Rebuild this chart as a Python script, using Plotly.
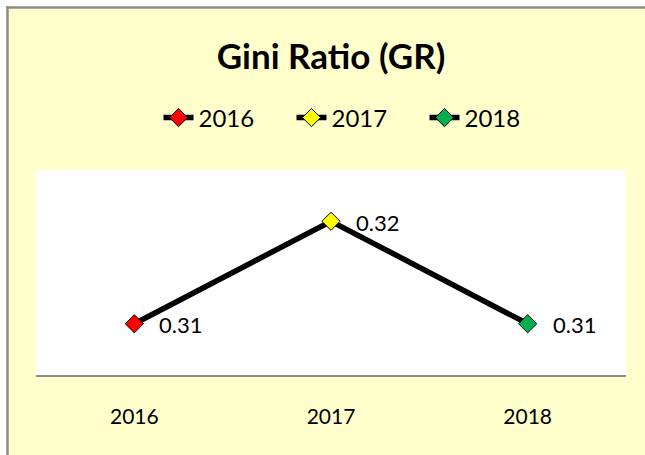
import plotly.graph_objects as go

categories = ["2016", "2017", "2018"]
gini_values = [0.31, 0.32, 0.31]
value_labels = ["0.31", "0.32", "0.31"]
marker_colors = ["#FF0000", "#FFFF00", "#00B050"]

FONT = "Lato"
W, H = 645, 455
L, R, T, B = 36, 19, 170, 80
PW, PH = W - L - R, H - T - B


def px_x(p):
    return (p - L) / PW


def px_y(p):
    return (H - B - p) / PH


fig = go.Figure()

# connecting line
fig.add_trace(go.Scatter(
    x=categories, y=gini_values, mode="lines",
    line=dict(color="black", width=5.5), showlegend=False, hoverinfo="skip",
))

# one series per year (legend entries)
for cat, val, col in zip(categories, gini_values, marker_colors):
    fig.add_trace(go.Scatter(
        x=[cat], y=[val], mode="lines+markers", name=cat,
        line=dict(color="black", width=5.5),
        marker=dict(symbol="diamond", size=14, color=col,
                    line=dict(color="black", width=1)),
    ))

for i, (val, lab) in enumerate(zip(gini_values, value_labels)):
    fig.add_annotation(
        x=i, y=val, xref="x", yref="y", text=lab, showarrow=False, xanchor="left",
        xshift=23, yshift=-1, font=dict(family=FONT, size=22, color="#000000"),
    )

# outer white strips + gray border
shapes = [
    dict(type="rect", xref="paper", yref="paper", x0=px_x(-5), x1=px_x(6), y0=px_y(470), y1=px_y(-5),
         fillcolor="white", line=dict(width=0), layer="above"),
    dict(type="rect", xref="paper", yref="paper", x0=px_x(-5), x1=px_x(660), y0=px_y(6), y1=px_y(-5),
         fillcolor="white", line=dict(width=0), layer="above"),
    dict(type="line", xref="paper", yref="paper", x0=px_x(7.5), x1=px_x(7.5), y0=px_y(470), y1=px_y(6.3),
         line=dict(color="#8C8C8C", width=2.5), layer="above"),
    dict(type="line", xref="paper", yref="paper", x0=px_x(6.3), x1=px_x(660), y0=px_y(7.5), y1=px_y(7.5),
         line=dict(color="#8C8C8C", width=2.5), layer="above"),
]

fig.update_layout(
    width=W, height=H,
    margin=dict(l=L, r=R, t=T, b=B),
    paper_bgcolor="#FFFFCC", plot_bgcolor="white",
    title=dict(text="<b>Gini Ratio (GR)</b>", x=331 / W, xanchor="center",
               y=1 - 57 / H, yanchor="middle",
               font=dict(family=FONT, size=35, color="black")),
    legend=dict(orientation="h", x=px_x(358), xanchor="center", y=px_y(118), yanchor="middle",
                font=dict(family=FONT, size=24, color="black"),
                bgcolor="rgba(0,0,0,0)", entrywidth=88, entrywidthmode="pixels",
                traceorder="normal"),
    shapes=shapes,
    showlegend=True,
)

fig.update_xaxes(type="category", range=[-0.5, 2.5], showgrid=False, zeroline=False,
                 showline=True, linecolor="#8C8C8C", linewidth=2,
                 ticks="", ticklabelstandoff=22,
                 tickfont=dict(family=FONT, size=21, color="black"), fixedrange=True)
fig.update_yaxes(range=[0.305, 0.325], visible=False, showgrid=False, zeroline=False, fixedrange=True)

fig.write_html("out.html", config={"displayModeBar": False},
               post_script="document.body.style.margin='0';")
